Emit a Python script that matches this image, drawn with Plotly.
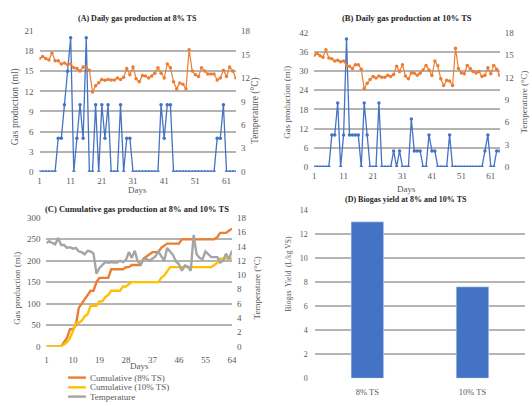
import plotly.graph_objects as go

# ---------------- data ----------------
days = list(range(1, 65))

gas_8 = [0, 0, 0, 0, 0, 0, 5, 5, 10, 15, 20, 0, 5, 10, 5, 20, 0, 0, 10, 0,
         10, 5, 10, 0, 0, 0, 10, 0, 5, 5, 0, 0, 0, 0, 0, 0, 0, 0, 0, 10,
         5, 10, 10, 0, 0, 0, 0, 0, 0, 0, 0, 0, 0, 0, 0, 0, 0, 5, 5, 10,
         0, 0, 0, 0]

temp_a = [14.5, 14.75, 14.5, 14.3, 15.2, 14.2, 14.2, 13.8, 13.9, 13.7,
          13.8, 13.3, 13.2, 12.9, 13.4, 13.3, 13.0, 10.2, 11.0, 11.4,
          11.8, 11.7, 11.8, 11.75, 11.75, 12.0, 11.8, 12.1, 13.2, 12.4,
          13.4, 11.9, 11.5, 12.3, 12.25, 12.0, 12.25, 12.6, 13.3, 12.6,
          12.0, 13.8, 13.3, 11.5, 10.6, 11.35, 11.2, 10.6, 15.6, 12.9,
          12.4, 12.2, 13.3, 12.9, 12.5, 12.5, 12.5, 11.75, 12.0, 13.0,
          12.2, 13.4, 12.9, 12.0]

gas_10 = [0, 0, 0, 0, 0, 0, 10, 10, 20, 0, 10, 40, 10, 10, 10, 10, 0, 20, 10, 0,
          0, 0, 20, 0, 0, 0, 0, 5, 0, 5, 0, 0, 0, 15, 5, 5, 5, 0, 0, 10,
          5, 5, 0, 0, 0, 0, 10, 0, 0, 0, 0, 0, 0, 0, 0, 0, 0, 0, 5, 10,
          0, 0, 5, 5]

temp_b = [14.95, 15.2, 14.9, 14.7, 15.7, 14.6, 14.5, 14.2, 14.3, 14.1,
          14.2, 13.6, 13.5, 13.2, 13.7, 13.7, 13.1, 10.5, 11.2, 11.7,
          12.1, 11.9, 12.2, 12.0, 12.0, 12.3, 12.1, 12.4, 13.5, 12.8,
          13.7, 12.2, 11.8, 12.6, 12.55, 12.3, 12.55, 13.0, 13.6, 13.0,
          12.25, 14.2, 13.55, 11.8, 10.9, 11.6, 11.5, 10.9, 15.9, 13.2,
          12.6, 12.5, 13.6, 13.2, 12.8, 12.6, 12.8, 12.1, 12.3, 13.3,
          12.5, 13.6, 13.1, 12.3]

cum_8 = [0, 0, 0, 0, 0, 0, 10, 20, 40, 40, 50, 90, 100, 110, 120, 130, 130, 150, 160, 160,
         160, 160, 180, 180, 180, 180, 180, 185, 185, 190, 190, 190, 190, 205, 210, 215, 220, 220, 220, 230,
         235, 240, 240, 240, 240, 240, 250, 250, 250, 250, 250, 250, 250, 250, 250, 250, 250, 250, 255, 265,
         265, 265, 270, 275]

cum_10 = [0, 0, 0, 0, 0, 0, 5, 10, 20, 35, 55, 55, 60, 70, 75, 95, 95, 95, 105, 105,
          115, 120, 130, 130, 130, 130, 140, 140, 145, 150, 150, 150, 150, 150, 150, 150, 150, 150, 150, 160,
          165, 175, 185, 185, 185, 185, 185, 185, 185, 185, 185, 185, 185, 185, 185, 185, 185, 190, 195, 205,
          205, 205, 205, 205]

temp_c = [14.5, 14.75, 14.5, 14.3, 15.2, 14.2, 14.2, 13.8, 13.9, 13.7,
          13.8, 13.3, 13.2, 12.9, 13.4, 13.3, 13.0, 10.2, 11.0, 11.4,
          11.8, 11.7, 11.8, 11.75, 11.75, 12.0, 11.8, 12.1, 13.2, 12.4,
          13.4, 11.9, 11.5, 12.3, 12.25, 12.0, 12.25, 12.6, 13.3, 12.6,
          12.0, 13.8, 13.3, 12.8, 11.9, 11.5, 10.6, 11.35, 11.2, 10.6,
          15.6, 12.9, 12.4, 12.2, 13.3, 12.9, 12.5, 12.5, 12.5, 11.75,
          12.0, 13.0, 12.2, 13.4]

yield_cats = ["8% TS", "10% TS"]
yield_vals = [13.0, 7.6]

ticks_ab = [1, 11, 21, 31, 41, 51, 61]
ticks_c = [1, 10, 19, 28, 37, 46, 55, 64]

legend_names = ["Cumulative (8% TS)", "Cumulative (10% TS)", "Temperature"]

# ---------------- style ----------------
BLUE = "#4472C4"
ORANGE = "#ED7D31"
GRAY = "#A5A5A5"
YELLOW = "#FFC000"
GRID = "#B4B4B4"
TXT = "#595959"
FONT = "Liberation Serif"

W, H = 532, 406


def px(x0, x1):
    return [x0 / W, x1 / W]


def py(top, bottom):
    return [(H - bottom) / H, (H - top) / H]


def fx(x):
    return x / W


def fy(y):
    return (H - y) / H


fig = go.Figure()

# Panel A
fig.add_trace(go.Scatter(x=days, y=gas_8, mode="lines+markers", line=dict(color=BLUE, width=1.3),
                         marker=dict(size=3.5, color=BLUE), xaxis="x", yaxis="y", showlegend=False))
fig.add_trace(go.Scatter(x=days, y=temp_a, mode="lines+markers", line=dict(color=ORANGE, width=1.2),
                         marker=dict(size=3.5, color=ORANGE), xaxis="x", yaxis="y2", showlegend=False))
# Panel B
fig.add_trace(go.Scatter(x=days, y=gas_10, mode="lines+markers", line=dict(color=BLUE, width=1.3),
                         marker=dict(size=3.5, color=BLUE), xaxis="x2", yaxis="y3", showlegend=False))
fig.add_trace(go.Scatter(x=days, y=temp_b, mode="lines+markers", line=dict(color=ORANGE, width=1.2),
                         marker=dict(size=3.5, color=ORANGE), xaxis="x2", yaxis="y4", showlegend=False))
# Panel C
fig.add_trace(go.Scatter(x=days, y=cum_8, mode="lines", line=dict(color=ORANGE, width=2.4),
                         name=legend_names[0], xaxis="x3", yaxis="y5", showlegend=False))
fig.add_trace(go.Scatter(x=days, y=cum_10, mode="lines", line=dict(color=YELLOW, width=2.4),
                         name=legend_names[1], xaxis="x3", yaxis="y5", showlegend=False))
fig.add_trace(go.Scatter(x=days, y=temp_c, mode="lines", line=dict(color=GRAY, width=2.4),
                         name=legend_names[2], xaxis="x3", yaxis="y6", showlegend=False))
# Panel D
fig.add_trace(go.Bar(x=yield_cats, y=yield_vals, marker=dict(color=BLUE), width=0.31,
                     xaxis="x4", yaxis="y7", showlegend=False))

tickf = dict(family=FONT, size=9, color=TXT)


def xax(dom, ticks, anchor, so=2, rng=(1, 64)):
    return dict(domain=dom, anchor=anchor, range=list(rng), tickmode="array", tickvals=ticks,
                showgrid=False, zeroline=False, showline=False, ticks="", tickfont=tickf,
                ticklabelstandoff=so)


def yl(dom, anchor, rng, dt, so=5):
    return dict(domain=dom, anchor=anchor, range=list(rng), dtick=dt, showgrid=True, gridcolor=GRID,
                gridwidth=1.5, zeroline=False, showline=False, ticks="", tickfont=tickf,
                ticklabelstandoff=so)


def yr(over, anchor, rng, dt, so=4):
    return dict(overlaying=over, anchor=anchor, side="right", range=list(rng), dtick=dt, showgrid=False,
                zeroline=False, showline=False, ticks="", tickfont=tickf, ticklabelstandoff=so)


xa = px(38, 237)
ya = py(26.7, 171)
xb = px(316.3, 504.3)
yb = py(28.3, 166)
xc = px(45, 233)
yc = py(218.3, 350)
xd = px(317, 530)
yd = py(210, 382.7)

fig.update_layout(
    width=W, height=H, autosize=False,
    margin=dict(l=0, r=0, t=0, b=0),
    paper_bgcolor="white", plot_bgcolor="white",
    font=dict(family=FONT, color=TXT),
    showlegend=False,
    xaxis=xax(xa, ticks_ab, "y"),
    yaxis=yl(ya, "x", (0, 21), 3),
    yaxis2=yr("y", "x", (0, 18), 3),
    xaxis2=xax(xb, ticks_ab, "y3"),
    yaxis3=yl(yb, "x2", (0, 42), 6),
    yaxis4=yr("y3", "x2", (0, 18), 3),
    xaxis3=xax(xc, ticks_c, "y5", so=7),
    yaxis5=yl(yc, "x3", (0, 300), 50),
    yaxis6=yr("y5", "x3", (0, 18), 2),
    xaxis4=dict(domain=xd, anchor="y7", showgrid=False, zeroline=False, showline=False, ticks="",
                tickfont=dict(family=FONT, size=8.5, color=TXT), ticklabelstandoff=7),
    yaxis7=dict(domain=yd, anchor="x4", range=[0, 14], dtick=2, showgrid=True, gridcolor=GRID,
                gridwidth=1.5, zeroline=False, showline=False, ticks="",
                tickfont=dict(family=FONT, size=8, color=TXT), ticklabelstandoff=6),
    bargap=0.69,
)

# chart titles
titles = [
    ("(A) Daily gas production at 8% TS", 137, 13.5, 8),
    ("(B) Daily gas production at 10% TS", 410, 13.5, 8.5),
    ("(C) Cumulative gas production at 8% and 10% TS", 137, 209, 8.5),
    ("(D) Biogas yield at 8% and 10% TS", 409, 199.5, 8),
]
for text, cx, cy, fs in titles:
    fig.add_annotation(text="<b>" + text + "</b>", x=fx(cx), y=fy(cy), xref="paper", yref="paper",
                       showarrow=False, xanchor="center", yanchor="middle",
                       font=dict(family=FONT, size=fs, color="#262626"))

# axis titles
axis_titles = [
    ("Days", 137, 189.5, 0, 9),
    ("Gas production (ml)", 14, 104, -90, 9.5),
    ("Temperature (°C)", 257, 108, -90, 9.5),
    ("Days", 410, 188.5, 0, 9),
    ("Gas production (ml)", 288, 100, -90, 9),
    ("Temperature (°C)", 528, 100, -90, 9),
    ("Days", 139, 370, 0, 9),
    ("Gas production (ml)", 15, 290, -90, 9),
    ("Temperature (°C)", 258, 290, -90, 9),
    ("Biogas  Yield  (L/kg VS)", 290, 276, -90, 7.5),
]
for text, cx, cy, ang, fs in axis_titles:
    fig.add_annotation(text=text, x=fx(cx), y=fy(cy), xref="paper", yref="paper", showarrow=False,
                       xanchor="center", yanchor="middle", textangle=ang,
                       font=dict(family=FONT, size=fs, color=TXT))

# legend for panel C
leg_colors = [ORANGE, YELLOW, GRAY]
leg_y = [382, 392, 401.5]
for name, col, ly in zip(legend_names, leg_colors, leg_y):
    fig.add_shape(type="line", xref="paper", yref="paper", x0=fx(67), x1=fx(85), y0=fy(ly), y1=fy(ly),
                  line=dict(color=col, width=2.4))
    fig.add_annotation(text=name, x=fx(87), y=fy(ly), xref="paper", yref="paper", showarrow=False,
                       xanchor="left", yanchor="middle", font=dict(family=FONT, size=9, color=TXT))

fig.write_html("out.html", config={"displayModeBar": False},
               post_script="document.body.style.margin='0';document.body.style.overflow='hidden';")
